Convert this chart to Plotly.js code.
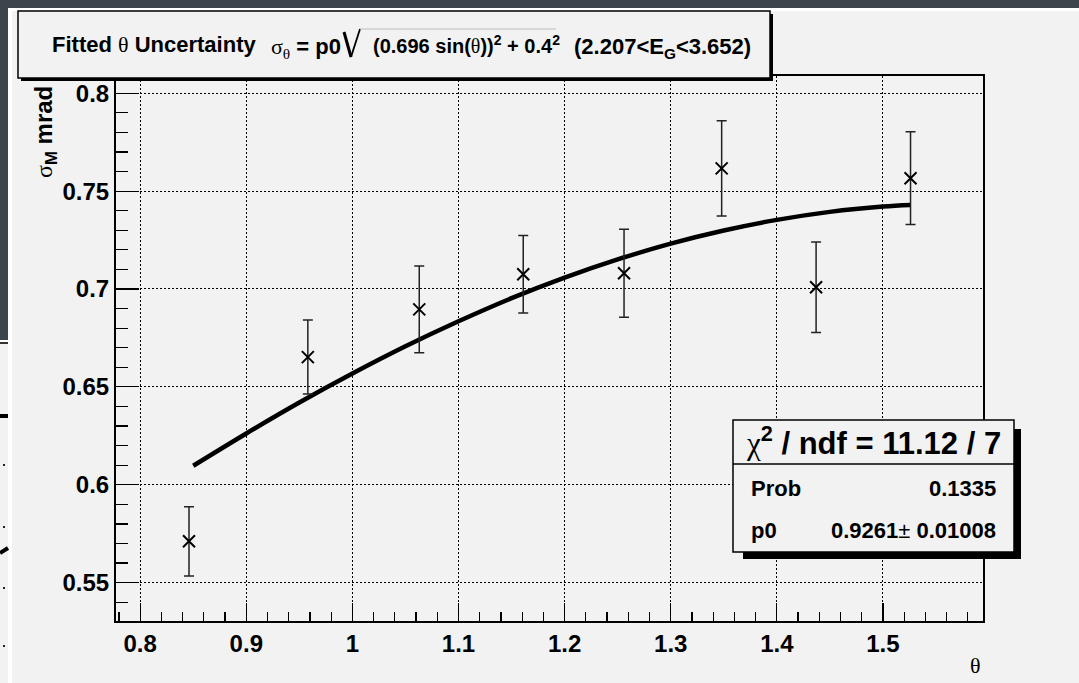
<!DOCTYPE html>
<html>
<head>
<meta charset="utf-8">
<script src="https://cdn.plot.ly/plotly-3.0.1.min.js"></script>
<style>
html,body{margin:0;padding:0;background:#f2f2f2;}
#chart{width:1079px;height:683px;}
</style>
</head>
<body>
<div id="chart"></div>
<script>
// ---- data ----
const theta    = [0.846, 0.958, 1.063, 1.161, 1.256, 1.348, 1.437, 1.526];
const sigma    = [0.5711, 0.6652, 0.6896, 0.7075, 0.7080, 0.7616, 0.7009, 0.7566];
const sigmaErr = [0.0177, 0.0189, 0.0222, 0.0198, 0.0225, 0.0243, 0.0231, 0.0237];

const fitTheta = [0.85, 0.90, 0.95, 1.00, 1.05, 1.10, 1.15, 1.20, 1.25, 1.30, 1.35, 1.40, 1.45, 1.50, 1.526];
const fitSigma = [0.6097, 0.6262, 0.6420, 0.6568, 0.6707, 0.6835, 0.6953, 0.7058, 0.7151, 0.7232, 0.7299, 0.7353, 0.7394, 0.7421, 0.7429];

const xTickVals = [0.8, 0.9, 1.0, 1.1, 1.2, 1.3, 1.4, 1.5];
const xTickText = ['0.8', '0.9', '1', '1.1', '1.2', '1.3', '1.4', '1.5'];
const yTickVals = [0.55, 0.6, 0.65, 0.7, 0.75, 0.8];
const yTickText = ['0.55', '0.6', '0.65', '0.7', '0.75', '0.8'];

const SERIF = 'font-family:\'Liberation Serif\';font-weight:normal';
const titleLeft  = 'Fitted <span style="' + SERIF + '">θ</span> Uncertainty';
const titleSigma = '<span style="' + SERIF + '">σ</span><sub><span style="' + SERIF + '">θ</span></sub> = p0';
const titleRoot  = '(0.696 sin(<span style="' + SERIF + '">θ</span>))<sup>2</sup> + 0.4<sup>2</sup>';
const titleRange = '(2.207&lt;E<sub>G</sub>&lt;3.652)';
const chiText  = '<span style="' + SERIF + '">χ</span><sup>2</sup> / ndf = 11.12 / 7';
const probName = 'Prob', probVal = '0.1335';
const p0Name = 'p0', p0Val = '0.9261<span style="font-weight:normal">±</span> 0.01008';
const yTitle = '<span style="' + SERIF + '">σ</span><sub>M</sub> mrad';
const xTitle = 'θ';

// ---- layout helpers (pixel -> paper) ----
const W = 1079, H = 683;
const L = 116, R = 983, T = 76, B = 621;
const px = x => (x - L) / (R - L);
const py = y => (B - y) / (B - T);

const FONT = 'Liberation Sans, Arial, sans-serif';

const traces = [
  {
    x: fitTheta, y: fitSigma, type: 'scatter', mode: 'lines',
    line: {color: '#000', width: 4.5, shape: 'spline'},
    hoverinfo: 'skip', showlegend: false
  },
  {
    x: theta, y: sigma, type: 'scatter', mode: 'markers',
    marker: {symbol: 'x-thin-open', size: 12, color: '#000', line: {color: '#000', width: 2}},
    error_y: {type: 'data', array: sigmaErr, visible: true, color: '#222', thickness: 1.5, width: 5},
    showlegend: false
  }
];

function rect(x0, y0, x1, y1, fill, lineColor, lw, layer) {
  return {type: 'rect', xref: 'paper', yref: 'paper', x0: px(x0), x1: px(x1), y0: py(y1), y1: py(y0),
    fillcolor: fill, line: {color: lineColor || fill, width: lw || 0}, layer: layer || 'above'};
}
function seg(x0, y0, x1, y1, color, lw) {
  return {type: 'line', xref: 'paper', yref: 'paper', x0: px(x0), x1: px(x1), y0: py(y0), y1: py(y1),
    line: {color: color, width: lw}, layer: 'above'};
}

const DARK = '#3c454a';
const shapes = [
  // window background artifacts
  rect(0, 0, 1079, 8, DARK),
  rect(0, 8, 1079, 11, '#ffffff'),
  rect(0, 0, 8, 340, DARK),
  rect(8, 8, 12, 683, '#ffffff'),
  rect(0, 340, 8, 342, '#ffffff'),
  rect(0, 342, 8, 344, '#333333'),
  rect(0, 414, 8, 418, '#000000'),
  rect(3, 464, 5, 466, '#222222'),
  rect(3, 526, 5, 528, '#222222'),
  rect(3, 587, 5, 589, '#222222'),
  rect(3, 645, 5, 647, '#222222'),
  seg(0, 553, 8, 548, '#000', 4),
  // title pave: shadow + box
  rect(21, 14, 773, 81, '#000000'),
  rect(18, 11, 770, 78, '#f2f2f2', '#000000', 1.5),
  // radical sign
  seg(344, 32, 351, 57, '#000', 3),
  seg(351, 57, 360, 29, '#000', 1.8),
  seg(360, 29, 556, 29, '#bdbdbd', 1),
  // stats box: shadow + box + divider
  rect(743, 429, 1021, 559, '#000000'),
  rect(733, 420, 1014, 552, '#f2f2f2', '#000000', 1.5),
  seg(733, 464, 1014, 464, '#000', 1.5)
];

function ann(text, x, y, xanchor, size, extra) {
  return Object.assign({
    text: text, xref: 'paper', yref: 'paper', x: px(x), y: py(y),
    xanchor: xanchor, yanchor: 'middle', showarrow: false,
    font: {family: FONT, size: size, color: '#000', weight: 'bold'}
  }, extra || {});
}

const annotations = [
  ann(titleLeft, 50, 45, 'left', 22),
  ann(titleSigma, 343, 48, 'right', 22),
  ann(titleRoot, 371, 45, 'left', 20),
  ann(titleRange, 572, 48, 'left', 22),
  ann(chiText, 873, 441, 'center', 31),
  ann(probName, 749, 488, 'left', 22),
  ann(probVal, 998, 488, 'right', 22),
  ann(p0Name, 749, 530, 'left', 22),
  ann(p0Val, 998, 530, 'right', 22),
  Object.assign(ann(yTitle, 45, 84, 'center', 24), {textangle: -90, yanchor: 'top'}),
  {text: xTitle, xref: 'paper', yref: 'paper', x: px(975), y: py(665), xanchor: 'center', yanchor: 'middle',
   showarrow: false, font: {family: 'Liberation Serif, serif', size: 22, color: '#000'}}
];

const layout = {
  width: W, height: H,
  margin: {l: L, r: W - R, t: T, b: H - B, pad: 0},
  paper_bgcolor: '#f2f2f2', plot_bgcolor: '#f2f2f2',
  showlegend: false,
  xaxis: {
    range: [0.7772, 1.5943], tickmode: 'array', tickvals: xTickVals, ticktext: xTickText,
    ticks: 'inside', ticklen: 18, tickwidth: 1.2, tickcolor: '#000',
    minor: {dtick: 0.02, tick0: 0.8, ticks: 'inside', ticklen: 9, tickwidth: 1.2, tickcolor: '#000', showgrid: false},
    showgrid: true, gridcolor: '#000', gridwidth: 1, griddash: '2px,2px',
    showline: true, linecolor: '#000', linewidth: 2, mirror: true,
    zeroline: false, automargin: false,
    tickfont: {family: FONT, size: 24, color: '#000', weight: 'bold'}
  },
  yaxis: {
    range: [0.5304, 0.8088], tickmode: 'array', tickvals: yTickVals, ticktext: yTickText,
    ticks: 'inside', ticklen: 23, tickwidth: 1.2, tickcolor: '#000',
    minor: {dtick: 0.01, tick0: 0.55, ticks: 'inside', ticklen: 12, tickwidth: 1.2, tickcolor: '#000', showgrid: false},
    showgrid: true, gridcolor: '#000', gridwidth: 1, griddash: '2px,2px',
    showline: true, linecolor: '#000', linewidth: 2, mirror: true,
    zeroline: false, automargin: false,
    tickfont: {family: FONT, size: 24, color: '#000', weight: 'bold'}
  },
  shapes: shapes,
  annotations: annotations
};

Plotly.newPlot('chart', traces, layout, {displayModeBar: false, staticPlot: true});
</script>
</body>
</html>
